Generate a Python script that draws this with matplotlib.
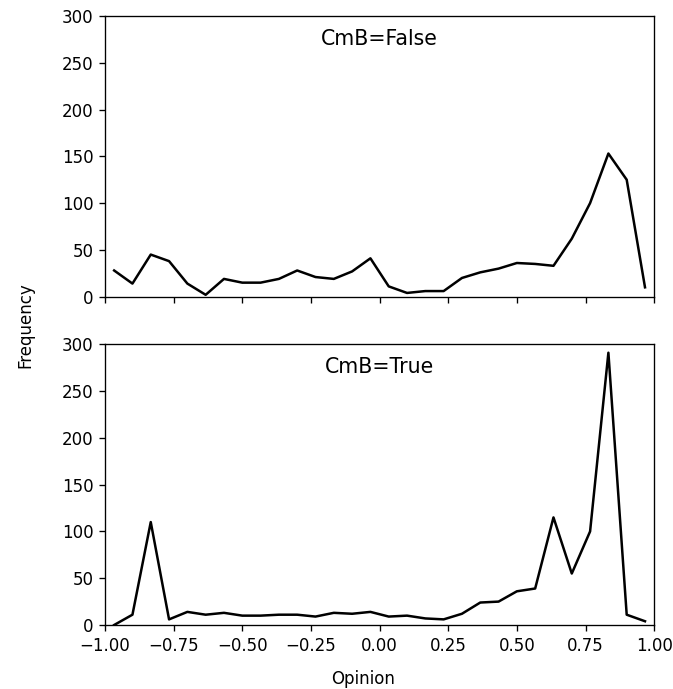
import numpy as np
import matplotlib
matplotlib.use('Agg')
import matplotlib.pyplot as plt

# 30 个分箱中心 (-1..1)
bin_edges = np.linspace(-1.0, 1.0, 31)
opinion = (bin_edges[:-1] + bin_edges[1:]) / 2

freq_false = [28, 14, 45, 38, 14, 2, 19, 15, 15, 19,
              28, 21, 19, 27, 41, 11, 4, 6, 6, 20,
              26, 30, 36, 35, 33, 62, 100, 153, 125, 10]
freq_true = [0, 11, 110, 6, 14, 11, 13, 10, 10, 11,
             11, 9, 13, 12, 14, 9, 10, 7, 6, 12,
             24, 25, 36, 39, 115, 55, 100, 291, 11, 4]

panels = [('CmB=False', freq_false), ('CmB=True', freq_true)]

DPI = 120
fig = plt.figure(figsize=(673 / DPI, 689 / DPI), dpi=DPI)
ax_top = fig.add_axes([0.156, 0.5694, 0.816, 0.4074])
ax_bot = fig.add_axes([0.156, 0.0929, 0.816, 0.4074], sharex=ax_top)

for ax, (title, freq) in zip([ax_top, ax_bot], panels):
    ax.plot(opinion, freq, color='black', linewidth=1.5)
    ax.set_ylim(0, 300)
    ax.set_yticks([0, 50, 100, 150, 200, 250, 300])
    ax.text(0.5, 0.918, title, transform=ax.transAxes, ha='center', va='center',
            fontsize=12.3)

ax_bot.set_xlim(-1.0, 1.0)
ax_bot.set_xticks([-1.0, -0.75, -0.5, -0.25, 0.0, 0.25, 0.5, 0.75, 1.0])
ax_top.tick_params(labelbottom=False)

fig.text(0.539, 0.014, 'Opinion', ha='center', va='center', fontsize=10)
fig.text(0.037, 0.528, 'Frequency', ha='center', va='center', rotation=90, fontsize=10)

fig.savefig('out.png', dpi=DPI)
